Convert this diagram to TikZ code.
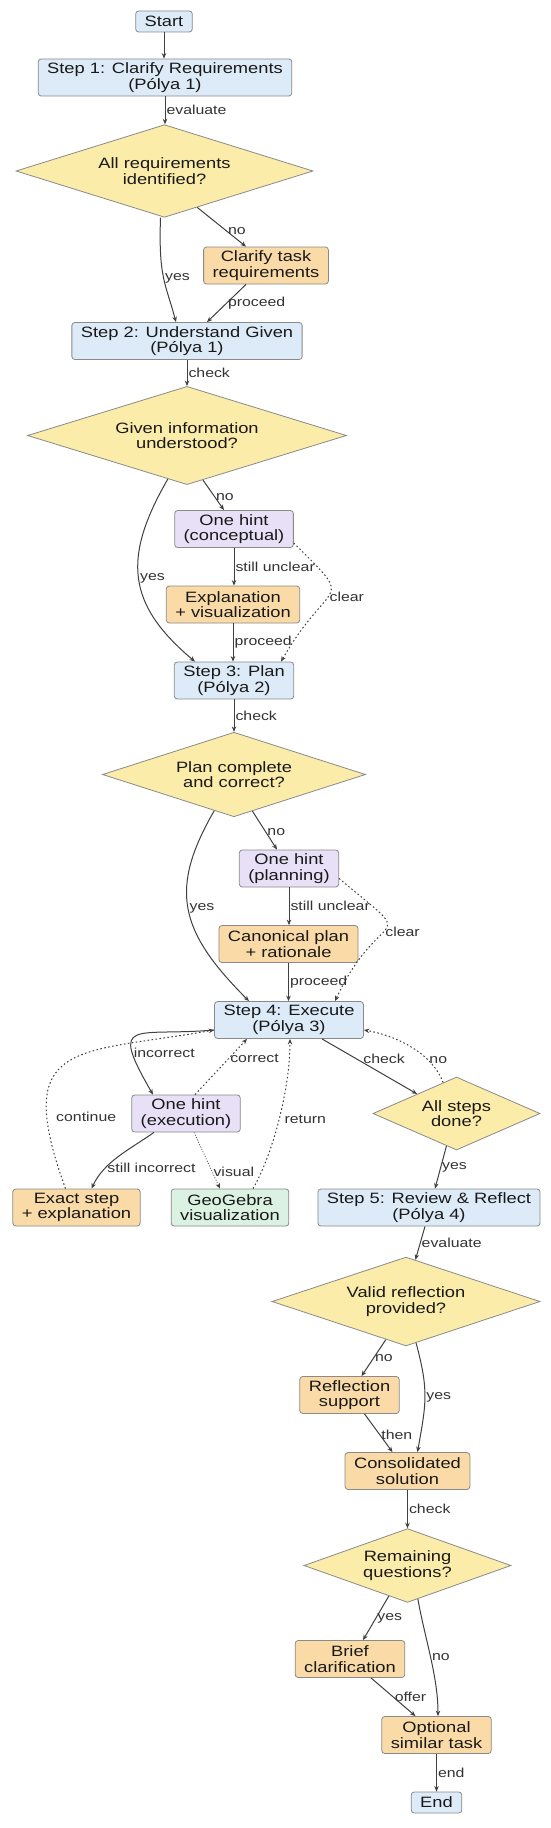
\documentclass[tikz,border=0pt]{standalone}
\usepackage{fontspec}
\setmainfont{Liberation Sans}[FakeStretch=1.22]
\usepackage{tikz}
\usetikzlibrary{arrows.meta,calc,shapes.geometric}
\definecolor{stepfill}{HTML}{DDEBF8}
\definecolor{askfill}{HTML}{FCECAA}
\definecolor{actfill}{HTML}{FADBA8}
\definecolor{hintfill}{HTML}{E8E0F6}
\definecolor{geofill}{HTML}{DBF1E2}
\definecolor{edgegray}{HTML}{404040}
\definecolor{framegray}{HTML}{8A8A8A}
\tikzset{
  box/.style={draw=framegray, line width=0.8pt, rounded corners=3pt, align=center, inner xsep=9pt, inner ysep=3pt, minimum height=37pt, font=\fontsize{15}{15.5}\selectfont, text=black!90},
  terminal/.style={box, fill=stepfill, minimum height=21pt},
  stepbox/.style={box, fill=stepfill},
  action/.style={box, fill=actfill},
  hint/.style={box, fill=hintfill},
  geobox/.style={box, fill=geofill},
  decision/.style={draw=framegray, line width=0.8pt, diamond, aspect=2, inner sep=0pt, fill=askfill, align=center, minimum height=73pt, font=\fontsize{15}{15.5}\selectfont, text=black!90},
  flow/.style={-{Stealth[length=5.5pt,width=4.5pt]}, line width=1pt, edgegray},
  loopflow/.style={flow, dash pattern=on 1.6pt off 2.4pt},
  thinflow/.style={flow, line width=0.7pt, dash pattern=on 1pt off 1.6pt},
  lbl/.style={font=\fontsize{13}{14}\selectfont, text=black!80, inner sep=1pt}
}
\begin{document}
\begin{tikzpicture}[x=1pt, y=1pt]
  \fill[white] (0,0) rectangle (550,-1828);
  \useasboundingbox (0,0) rectangle (550,-1828);

  % steps 1 to 3
  \node[terminal] (start) at (164,-21.5) {Start};
  \node[stepbox] (s1) at (165,-77.5) {Step 1: Clarify Requirements\\(Pólya 1)};
  \node[decision, minimum width=297pt] (d1) at (164.5,-171) {All requirements\\identified?};
  \node[action] (clar) at (266,-265.5) {Clarify task\\requirements};
  \node[stepbox] (s2) at (187,-341) {Step 2: Understand Given\\(Pólya 1)};
  \node[decision, minimum width=319pt] (d2) at (187,-435.5) {Given information\\understood?};
  \node[hint] (h1) at (234,-529) {One hint\\(conceptual)};
  \node[action] (expl) at (233,-604.5) {Explanation\\+ visualization};
  \node[stepbox] (s3) at (234,-680.5) {Step 3: Plan\\(Pólya 2)};
  \node[decision, minimum width=263pt] (d3) at (234,-774.5) {Plan complete\\and correct?};
  \node[hint] (h2) at (289,-868.5) {One hint\\(planning)};
  \node[action] (canon) at (288.5,-944) {Canonical plan\\+ rationale};

  % step 4 and its loops
  \node[stepbox] (s4) at (289,-1020) {Step 4: Execute\\(Pólya 3)};
  \node[hint] (h3) at (186,-1113.5) {One hint\\(execution)};
  \node[action] (exact) at (76.5,-1207.5) {Exact step\\+ explanation};
  \node[geobox] (geo) at (230,-1207.5) {GeoGebra\\visualization};
  \node[decision, minimum width=167pt] (dall) at (456.5,-1113.5) {All steps\\done?};

  % step 5 to the end
  \node[stepbox] (s5) at (429,-1207.5) {Step 5: Review \& Reflect\\(Pólya 4)};
  \node[decision, minimum width=268pt] (dval) at (406,-1301.5) {Valid reflection\\provided?};
  \node[action] (refl) at (349.5,-1395) {Reflection\\support};
  \node[action] (cons) at (407.5,-1471) {Consolidated\\solution};
  \node[decision, minimum width=207pt] (drem) at (407.5,-1565.5) {Remaining\\questions?};
  \node[action] (brief) at (350,-1659) {Brief\\clarification};
  \node[action] (opt) at (436.5,-1735) {Optional\\similar task};
  \node[terminal] (fin) at (436.5,-1802.5) {End};

  \draw[flow] (start.south) -- (start.south |- s1.north);
  \draw[flow] (s1.south) -- node[lbl, right] {evaluate} (s1.south |- d1.north);
  \draw[flow] ($(d1.south)!0.22!(d1.east)$) -- node[lbl, right, pos=0.6] {no} ([xshift=-20pt]clar.north);
  \draw[flow] ([xshift=-4pt]d1.south) .. controls +(-92:60pt) and +(105:40pt) .. ([xshift=-11pt]s2.north) node[lbl, right, pos=0.5] {yes};
  \draw[flow] ([xshift=-20pt]clar.south) -- node[lbl, right] {proceed} ([xshift=20pt]s2.north);

  \draw[flow] (s2.south) -- node[lbl, right] {check} (s2.south |- d2.north);
  \draw[flow] ($(d2.south)!0.1!(d2.east)$) -- node[lbl, right, pos=0.55] {no} ([xshift=-10pt]h1.north);
  \draw[flow] ($(d2.south)!0.12!(d2.west)$) .. controls +(-120:90pt) and +(140:90pt) .. ([xshift=-39pt]s3.north) node[lbl, right, pos=0.5] {yes};
  \draw[flow] (h1.south) -- node[lbl, right] {still unclear} (h1.south |- expl.north);
  \draw[loopflow] ([yshift=-14pt]h1.east) .. controls +(-45:90pt) and +(60:100pt) .. ([xshift=47pt]s3.north) node[lbl, right, pos=0.55] {clear};
  \draw[flow] (expl.south) -- node[lbl, right] {proceed} (expl.south |- s3.north);

  \draw[flow] (s3.south) -- node[lbl, right] {check} (s3.south |- d3.north);
  \draw[flow] ($(d3.south)!0.14!(d3.east)$) -- node[lbl, right, pos=0.55] {no} ([xshift=-12pt]h2.north);
  \draw[flow] ($(d3.south)!0.15!(d3.west)$) .. controls +(-120:90pt) and +(135:100pt) .. ([xshift=-40pt]s4.north) node[lbl, right, pos=0.5] {yes};
  \draw[flow] (h2.south) -- node[lbl, right] {still unclear} (h2.south |- canon.north);
  \draw[loopflow] ([yshift=-10pt]h2.east) .. controls +(-40:110pt) and +(65:110pt) .. ([xshift=46pt]s4.north) node[lbl, right, pos=0.55] {clear};
  \draw[flow] (canon.south) -- node[lbl, right] {proceed} (canon.south |- s4.north);

  \draw[flow] ([yshift=-10pt]s4.west) .. controls +(185:80pt) and +(120:90pt) .. ([xshift=-33pt]h3.north) node[lbl, right, pos=0.75] {incorrect};
  \draw[loopflow] ([xshift=9pt]h3.north) -- node[lbl, right, pos=0.65] {correct} ([xshift=-42pt]s4.south);
  \draw[flow] ([xshift=-32pt]h3.south) .. controls +(215:30pt) and +(65:30pt) .. ([xshift=15pt]exact.north) node[lbl, right, pos=0.7] {still incorrect};
  \draw[thinflow] ([xshift=8pt]h3.south) -- node[lbl, right, pos=0.7] {visual} ([xshift=-10pt]geo.north);
  \draw[loopflow] ([xshift=-11pt]exact.north) .. controls +(110:160pt) and +(190:140pt) .. ([yshift=-10pt]s4.west) node[lbl, right, pos=0.2, xshift=8pt] {continue};
  \draw[loopflow] ([xshift=23pt]geo.north) .. controls +(60:40pt) and +(-90:50pt) .. ([xshift=1pt]s4.south) node[lbl, right, pos=0.5, xshift=4pt] {return};
  \draw[flow] ([xshift=33pt]s4.south) -- node[lbl, right, pos=0.42, yshift=3pt] {check} ($(dall.north)!0.47!(dall.west)$);
  \draw[loopflow] ($(dall.north)!0.16!(dall.west)$) .. controls +(110:30pt) and +(-10:35pt) .. ([yshift=-10pt]s4.east) node[lbl, right, pos=0.3] {no};
  \draw[flow] ($(dall.south)!0.12!(dall.west)$) -- node[lbl, right] {yes} ([xshift=6pt]s5.north);

  \draw[flow] ([xshift=-4pt]s5.south) -- node[lbl, right] {evaluate} ($(dval.north)!0.07!(dval.east)$);
  \draw[flow] ($(dval.south)!0.15!(dval.west)$) -- node[lbl, right] {no} ([xshift=12pt]refl.north);
  \draw[flow] ($(dval.south)!0.075!(dval.east)$) .. controls +(-75:50pt) and +(80:50pt) .. ([xshift=10pt]cons.north) node[lbl, right, pos=0.5] {yes};
  \draw[flow] ([xshift=15pt]refl.south) -- node[lbl, right, pos=0.55] {then} ([xshift=-15pt]cons.north);
  \draw[flow] (cons.south) -- node[lbl, right] {check} (cons.south |- drem.north);
  \draw[flow] ($(drem.south)!0.18!(drem.west)$) -- node[lbl, right] {yes} ([xshift=13pt]brief.north);
  \draw[flow] ($(drem.south)!0.1!(drem.east)$) .. controls +(-80:40pt) and +(90:40pt) .. ([xshift=1.5pt]opt.north) node[lbl, right, pos=0.5] {no};
  \draw[flow] ([xshift=21pt]brief.south) -- node[lbl, right] {offer} ([xshift=-21pt]opt.north);
  \draw[flow] (opt.south) -- node[lbl, right] {end} (opt.south |- fin.north);
\end{tikzpicture}
\end{document}
